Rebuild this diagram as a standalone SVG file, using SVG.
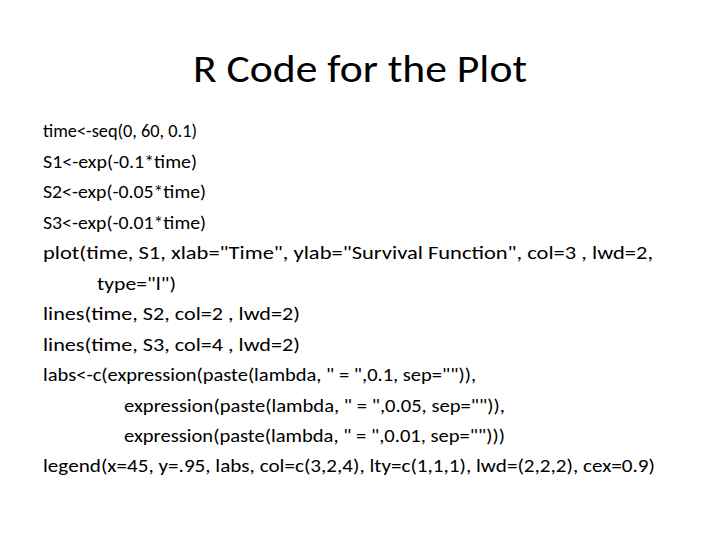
<svg xmlns="http://www.w3.org/2000/svg" width="720" height="540" viewBox="0 0 720 540">
<style>
text{font-family:Carlito,"Liberation Sans","Noto Sans",sans-serif;fill:#000}
.b{font-size:19px}
.t{font-size:38px}
</style>
<rect width="720" height="540" fill="#fff"/>
<text class="t" x="360" y="82" text-anchor="middle" textLength="334" lengthAdjust="spacingAndGlyphs">R Code for the Plot</text>
<g class="b">
<text x="43" y="137" textLength="154" lengthAdjust="spacingAndGlyphs">time&lt;-seq(0, 60, 0.1)</text>
<text x="43" y="167.5" textLength="154" lengthAdjust="spacingAndGlyphs">S1&lt;-exp(-0.1*time)</text>
<text x="43" y="198" textLength="163" lengthAdjust="spacingAndGlyphs">S2&lt;-exp(-0.05*time)</text>
<text x="43" y="228.5" textLength="163" lengthAdjust="spacingAndGlyphs">S3&lt;-exp(-0.01*time)</text>
<text x="43" y="259" textLength="610" lengthAdjust="spacingAndGlyphs">plot(time, S1,  xlab="Time",  ylab="Survival Function", col=3 ,  lwd=2,</text>
<text x="97" y="289.5" textLength="79" lengthAdjust="spacingAndGlyphs">type="l")</text>
<text x="43" y="320" textLength="257" lengthAdjust="spacingAndGlyphs">lines(time, S2, col=2 , lwd=2)</text>
<text x="43" y="350.5" textLength="257" lengthAdjust="spacingAndGlyphs">lines(time, S3, col=4 , lwd=2)</text>
<text x="43" y="381" textLength="433" lengthAdjust="spacingAndGlyphs">labs&lt;-c(expression(paste(lambda, " = ",0.1,  sep="")),</text>
<text x="124" y="411.5" textLength="381" lengthAdjust="spacingAndGlyphs">expression(paste(lambda, " = ",0.05,  sep="")),</text>
<text x="124" y="442" textLength="381" lengthAdjust="spacingAndGlyphs">expression(paste(lambda, " = ",0.01,  sep="")))</text>
<text x="43" y="472" textLength="612" lengthAdjust="spacingAndGlyphs">legend(x=45, y=.95, labs, col=c(3,2,4),  lty=c(1,1,1),  lwd=(2,2,2), cex=0.9)</text>
</g>
</svg>
